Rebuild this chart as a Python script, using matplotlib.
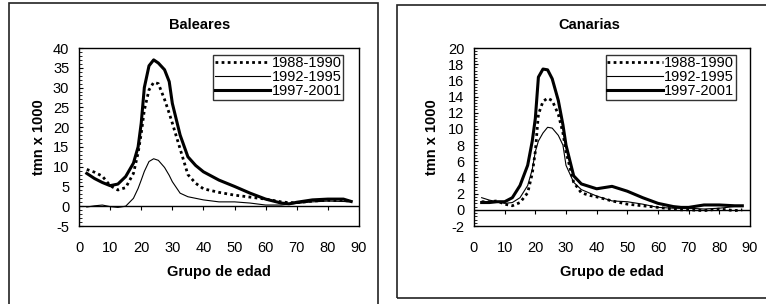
import matplotlib
matplotlib.use("Agg")
import matplotlib.pyplot as plt
from matplotlib.patches import Rectangle
import numpy as np

plt.rcParams['font.family'] = ['Liberation Sans', 'DejaVu Sans']
plt.rcParams['axes.unicode_minus'] = False

# age group positions
age = [2.5, 5, 7.5, 10, 12.5, 15, 17.5, 19, 20, 21, 22.5, 24, 25.5, 27.5, 29, 30,
       32.5, 35, 37.5, 40, 45, 50, 55, 60, 65, 67.5, 70, 75, 80, 85, 87.5]

labels = ['1988-1990', '1992-1995', '1997-2001']

# Baleares
bal_88 = [9.3, 8.6, 7.6, 5.2, 4.1, 4.7, 8.3, 13.5, 18.4, 24.3, 29.4, 31.3, 31.0, 27.0, 23.5, 21.0,
          14.5, 8.0, 5.8, 4.4, 3.5, 2.8, 2.3, 1.8, 1.1, 0.9, 0.9, 1.3, 1.5, 1.4, 1.3]
bal_92 = [-0.2, 0.1, 0.3, -0.1, -0.3, 0.0, 2.0, 4.5, 6.6, 8.8, 11.3, 12.0, 11.6, 9.8, 7.8, 6.2,
          3.3, 2.4, 2.0, 1.6, 1.1, 1.1, 0.8, 0.3, 0.3, 0.5, 0.7, 1.1, 1.3, 1.2, 1.1]
bal_97 = [8.3, 7.0, 6.0, 5.2, 5.6, 7.5, 10.9, 15.0, 21.0, 30.0, 35.5, 37.0, 36.2, 34.5, 31.5, 26.0,
          18.0, 12.5, 10.3, 8.7, 6.6, 5.0, 3.3, 1.8, 0.8, 0.6, 1.0, 1.6, 1.8, 1.8, 1.2]

# Canarias
can_88 = [1.0, 1.0, 1.1, 0.7, 0.5, 0.9, 2.1, 4.5, 7.2, 11.8, 13.4, 13.8, 13.5, 11.8, 9.5, 7.2,
          3.4, 2.1, 1.8, 1.6, 1.1, 0.7, 0.5, 0.3, 0.1, 0.0, 0.0, -0.1, 0.1, -0.1, 0.0]
can_92 = [1.5, 1.2, 1.0, 0.8, 0.9, 1.5, 3.0, 5.0, 7.2, 8.5, 9.5, 10.2, 10.1, 9.2, 8.0, 5.5,
          3.4, 2.5, 2.1, 1.7, 1.1, 1.0, 0.7, 0.3, 0.2, 0.2, 0.2, 0.1, 0.2, 0.4, 0.4]
can_97 = [0.9, 0.9, 1.0, 1.0, 1.5, 3.0, 5.5, 8.5, 11.3, 16.4, 17.4, 17.3, 16.2, 13.5, 10.5, 8.0,
          4.2, 3.2, 2.9, 2.6, 2.9, 2.3, 1.5, 0.8, 0.4, 0.3, 0.3, 0.6, 0.6, 0.5, 0.5]

W, H = 766, 304
fig = plt.figure(figsize=(W / 100, H / 100), dpi=100)

def px(x0, y0, x1, y1):
    return [x0 / W, 1 - y1 / H, (x1 - x0) / W, (y1 - y0) / H]

# outer chart boxes
fig.patches.append(Rectangle((9 / W, -5 / H), 369 / W, (H + 5 - 3) / H, transform=fig.transFigure,
                             fill=False, ec='#222222', lw=1.2))
fig.patches.append(Rectangle((397 / W, 1 - 298 / H), 400 / W, 293 / H, transform=fig.transFigure,
                             fill=False, ec='#222222', lw=1.2))

panels = [
    dict(rect=px(79, 48, 359, 226), title='Baleares', tx=200, series=[bal_88, bal_92, bal_97],
         ylim=(-5, 40), ystep=5, leg=(0.943, 0.961), ylab=-0.118),
    dict(rect=px(474, 48, 750, 226), title='Canarias', tx=589, series=[can_88, can_92, can_97],
         ylim=(-2, 20), ystep=2, leg=(0.949, 0.961), ylab=-0.127),
]

styles = [dict(color='black', lw=2.0, ls=(0, (1, 1.2))),
          dict(color='black', lw=0.8, ls='-'),
          dict(color='black', lw=2.2, ls='-')]

fs = 10.5
for p in panels:
    ax = fig.add_axes(p['rect'])
    for vals, lab, st in zip(p['series'], labels, styles):
        ax.plot(age, vals, label=lab, **st)
    ax.axhline(0, color='black', lw=1.0)
    # tick marks along the zero axis
    xt = np.arange(0, 91, 10)
    ax.plot(xt, np.zeros_like(xt), ls='none', marker=3, ms=3, color='black', mew=0.8)
    ax.set_xlim(0, 90)
    ax.set_ylim(*p['ylim'])
    ax.set_xticks(xt)
    ax.set_yticks(np.arange(p['ylim'][0], p['ylim'][1] + 0.1, p['ystep']))
    ax.set_yticks(np.arange(p['ylim'][0], p['ylim'][1] + 0.1, p['ystep'] / 5), minor=True)
    ax.tick_params(axis='x', length=0, pad=11, labelsize=fs)
    ax.tick_params(axis='y', which='major', direction='in', length=3, pad=7, labelsize=fs, width=0.8)
    ax.tick_params(axis='y', which='minor', direction='in', length=2, width=0.6)
    for s in ax.spines.values():
        s.set_linewidth(1.0)
    ax.set_xlabel('Grupo de edad', fontsize=fs, fontweight='bold', labelpad=7)
    ax.set_ylabel('tmn x 1000', fontsize=fs, fontweight='bold')
    ax.yaxis.set_label_coords(p['ylab'], 0.5)
    fig.text(p['tx'] / W, 1 - 25 / H, p['title'], ha='center', va='center',
             fontsize=fs, fontweight='bold')
    leg = ax.legend(loc='upper right', bbox_to_anchor=p['leg'], borderaxespad=0,
                    frameon=True, fancybox=False, fontsize=fs, handlelength=3.8,
                    handletextpad=0.1, labelspacing=0.0, borderpad=0.1)
    leg.get_frame().set_edgecolor('black')
    leg.get_frame().set_linewidth(1.0)

fig.savefig('out.png', dpi=100)
